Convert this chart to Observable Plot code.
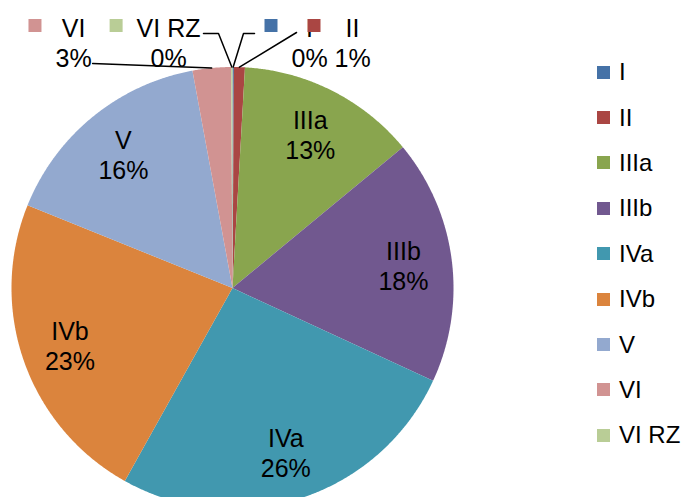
<!DOCTYPE html>
<html><head><meta charset="utf-8">
<script src="https://cdn.jsdelivr.net/npm/d3@7"></script>
<script src="https://cdn.jsdelivr.net/npm/@observablehq/plot@0.6"></script>
<style>
html,body{margin:0;padding:0;background:#fff;overflow:hidden;}
#wrap{position:relative;width:687px;height:497px;overflow:hidden;}
#legend{position:absolute;left:597px;top:49.5px;font-family:"Liberation Sans",Arial,sans-serif;font-size:24px;color:#000;}
.row{display:flex;align-items:center;height:45.4px;line-height:1;}
.sw{width:13px;height:13px;margin-right:9px;flex:none;}
</style></head><body><div id="wrap"><div id="chart"></div><div id="legend"></div></div>
<script>
// ---- data ----
const categories = ["I","II","IIIa","IIIb","IVa","IVb","V","VI","VI RZ"];
const shares     = [0.1, 0.8, 13.1, 17.9, 26.2, 23.0, 16.0, 2.8, 0.1];
const colors     = ["#4572A7","#AA4643","#89A54E","#71588F","#4198AF","#DB843D","#93A9CF","#D19392","#B9CD96"];

// ---- layout ----
const W = 687, H = 497, CX = 232, CY = 287.5, R = 221;
const FONT = "Liberation Sans";
const LABEL_SIZE = 25;

const rows = categories.map((name, i) => ({name, value: shares[i], pct: Math.round(shares[i]) + "%"}));
const arcs = d3.pie().sort(null).value(d => d.value)(rows).map(a => ({...a, name: a.data.name, pct: a.data.pct, mid: (a.startAngle + a.endAngle) / 2}));

// slice outlines in unit-circle coordinates (y up)
const outline = [];
for (const a of arcs) {
  outline.push({name: a.name, x: 0, y: 0});
  const n = Math.max(2, Math.ceil((a.endAngle - a.startAngle) / 0.005));
  for (let k = 0; k <= n; k++) {
    const t = a.startAngle + (a.endAngle - a.startAngle) * k / n;
    outline.push({name: a.name, x: Math.sin(t), y: Math.cos(t)});
  }
  outline.push({name: a.name, x: 0, y: 0});
}

// pixel -> unit helpers
const ux = px => (px - CX) / R;
const uy = py => (CY - py) / R;

// inside labels
const inner = arcs.filter(a => a.value >= 5).map(a => ({
  x: 0.78 * Math.sin(a.mid), y: 0.78 * Math.cos(a.mid), text: a.name + "\n" + a.pct
}));

// outside labels for small slices
const ctx = document.createElement("canvas").getContext("2d");
ctx.font = `${LABEL_SIZE}px "${FONT}"`;
const tw = s => ctx.measureText(s).width;
const small = arcs.filter(a => a.value < 5);
const leftGroup = small.filter(a => a.mid > Math.PI).sort((a, b) => b.mid - a.mid);
const rightGroup = small.filter(a => a.mid <= Math.PI).sort((a, b) => a.mid - b.mid);
const outerText = [], swatches = [], leaders = [];
const TEXT_Y = 42, SW_Y = 25, L1 = 33, L2 = 63;
const rim = a => ({x: Math.sin(a.mid), y: Math.cos(a.mid)});
let boxRight = CX - 32;
leftGroup.forEach((a, i) => {
  const w = Math.max(tw(a.name), tw(a.pct));
  const boxLeft = boxRight - w;
  outerText.push({x: ux(boxLeft + w / 2), y: uy(TEXT_Y), text: a.name + "\n" + a.pct});
  swatches.push({x: ux(boxLeft - 27 + 6.5), y: uy(SW_Y), name: a.name});
  const pts = i === 0
    ? [{x: ux(boxRight + 3), y: uy(L1)}, {x: ux(boxRight + 18), y: uy(L1)}, rim(a)]
    : [{x: ux(boxRight + 1), y: uy(L2)}, rim(a)];
  pts.forEach(p => leaders.push({...p, name: a.name}));
  boxRight = boxLeft - 27 - 18;
});
let blockLeft = CX + 32;
rightGroup.forEach((a, i) => {
  const w = Math.max(tw(a.name), tw(a.pct));
  const boxLeft = blockLeft + 27;
  outerText.push({x: ux(boxLeft + w / 2), y: uy(TEXT_Y), text: a.name + "\n" + a.pct});
  swatches.push({x: ux(blockLeft + 6.5), y: uy(SW_Y), name: a.name});
  const pts = i === 0
    ? [{x: ux(blockLeft - 10), y: uy(L1)}, {x: ux(blockLeft - 21), y: uy(L1)}, rim(a)]
    : [{x: ux(blockLeft - 11), y: uy(L1 - 1)}, rim(a)];
  pts.forEach(p => leaders.push({...p, name: a.name}));
  blockLeft = boxLeft + 16;
});

const chart = Plot.plot({
  width: W, height: H,
  marginTop: 0, marginRight: 0, marginBottom: 0, marginLeft: 0,
  x: {domain: [ux(0), ux(W)], range: [0, W], axis: null},
  y: {domain: [uy(H), uy(0)], range: [H, 0], axis: null},
  color: {domain: categories, range: colors},
  style: {background: "white", overflow: "hidden"},
  marks: [
    Plot.line(outline, {x: "x", y: "y", z: "name", fill: "name", stroke: "none", curve: "linear"}),
    Plot.text(inner, {x: "x", y: "y", text: "text", fontSize: LABEL_SIZE, fontFamily: FONT, lineHeight: 1.2, fill: "black"}),
    Plot.text(outerText, {x: "x", y: "y", text: "text", fontSize: LABEL_SIZE, fontFamily: FONT, lineHeight: 1.2, fill: "black"}),
    Plot.dot(swatches, {x: "x", y: "y", symbol: "square", r: 13 / Math.sqrt(Math.PI), fill: "name", stroke: "none"}),
    Plot.line(leaders, {x: "x", y: "y", z: "name", stroke: "black", strokeWidth: 1.5, curve: "linear"})
  ]
});
document.getElementById("chart").appendChild(chart);

// legend (right side)
const legend = d3.select("#legend");
categories.forEach((c, i) => {
  const r = legend.append("div").attr("class", "row");
  r.append("div").attr("class", "sw").style("background", colors[i]);
  r.append("span").text(c);
});
</script>
</body></html>
